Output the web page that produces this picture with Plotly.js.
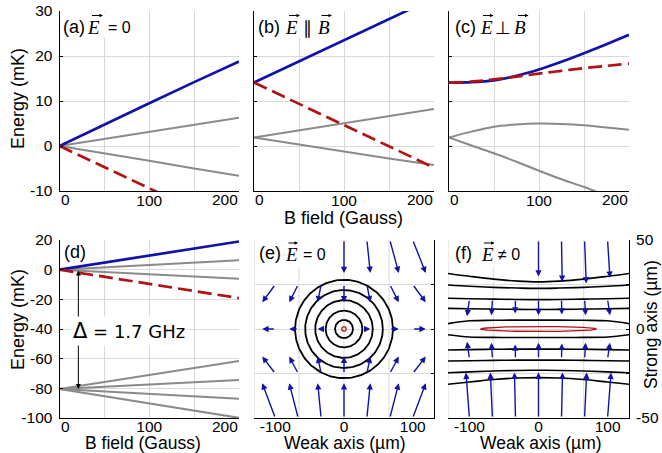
<!DOCTYPE html>
<html><head><meta charset="utf-8">
<script src="https://cdn.plot.ly/plotly-3.0.1.min.js"></script>
<style>body{margin:0;background:#fff}#chart{width:662px;height:453px}</style>
</head><body><div id="chart"></div>
<script>
// ================= DATA =================
// (a) E = 0
const aField = [0, 50, 100, 150, 200];
const aBlue = [0, 4.8, 9.5, 14.2, 18.8];
const aGrayUp = [0, 1.6, 3.1, 4.7, 6.3];
const aGrayDown = [0, -1.6, -3.3, -5.0, -6.6];
const aRed = [0, -4.7, -9.4, -14.1, -18.8];
// (b) E || B
const bField = [0, 50, 100, 150, 200];
const bBlue = [14.1, 18.8, 23.5, 28.2, 32.9];
const bRed = [14.1, 9.4, 4.7, 0.0, -4.8];
const bGrayUp = [1.9, 3.5, 5.0, 6.6, 8.2];
const bGrayDown = [1.9, 0.3, -1.3, -2.8, -4.2];
// (c) E perp B
const cField = [0, 25, 50, 75, 100, 125, 150, 175, 200];
const cBlue = [14.1, 14.2, 14.6, 15.6, 17.0, 18.7, 20.6, 22.6, 24.7];
const cRed = [14.1, 14.3, 14.8, 15.4, 16.1, 16.7, 17.3, 17.8, 18.3];
const cGrayUp = [1.9, 3.2, 4.3, 4.8, 5.0, 4.9, 4.6, 4.1, 3.6];
const cGrayDown = [1.9, 0.1, -1.6, -3.5, -5.5, -7.4, -9.1, -11.0, -12.8];
// (d) full manifold
const dField = [0, 100, 200];
const dBlue = [0, 9.5, 19.0];
const dGrayUp = [0, 3.2, 6.4];
const dGrayDown = [0, -3.1, -6.2];
const dRed = [0, -9.6, -19.2];
const dLower1 = [-80.5, -71.0, -61.5];
const dLower2 = [-80.5, -77.5, -74.4];
const dLower3 = [-80.5, -83.8, -87.0];
const dLower4 = [-80.5, -90.2, -99.9];
const deltaField = 21, deltaTop = -0.5, deltaBottom = -80.5, deltaMid = -42;
const deltaLabel = '1.7 GHz';
// (e) E = 0 trap: contour ellipses (semi-axes in µm)
const eRingRx = [13.1, 26.7, 41.9, 56.5, 71.2];
const eRingRy = [5.1, 10.3, 16.2, 21.9, 27.6];
const eCoreRx = 3.4, eCoreRy = 1.3;
// (e) force arrows: tails and components (µm)
const eArrowX = [0,33.3,66.7,100,
  -100,-66.7,-33.3,0,33.3,66.7,100,
  -100,-66.7,-33.3,33.3,66.7,100,
  -100,-66.7,-33.3,0,33.3,66.7,100,
  -100,-66.7,-33.3,0,33.3,66.7,100];
const eArrowY = [50,50,50,50,
  25,25,25,25,25,25,25,
  0,0,0,0,0,0,
  -25,-25,-25,-25,-25,-25,-25,
  -50,-50,-50,-50,-50,-50,-50];
const eArrowU = [0,5,13,19,
  -19,-13,-5,0,5,13,19,
  -19,-13,-5,5,13,19,
  -19,-13,-5,0,5,13,19,
  -19,-13,-5,0,5,13,19];
const eArrowV = [-18.5,-18.5,-18.5,-18.5,
  -10,-10,-10,-10,-10,-10,-10,
  0,0,0,0,0,0,
  9.5,9.5,9.5,9.5,9.5,9.5,9.5,
  19.5,19.5,19.5,19.5,19.5,19.5,19.5];
// (f) E != 0 trap: contour lines
const fLineX = [-131, -100, -65, -30, 0, 30, 65, 100, 131];
const fLines = [
  [31.2, 29.6, 28.0, 26.9, 26.5, 26.9, 28.0, 29.6, 31.2],
  [24.7, 24.0, 23.4, 23.0, 22.8, 23.0, 23.4, 24.0, 24.7],
  [17.3, 17.0, 16.8, 16.6, 16.5, 16.6, 16.8, 17.0, 17.3],
  [11.6, 11.4, 11.2, 11.0, 11.0, 11.0, 11.2, 11.4, 11.6],
  [3.0, 4.6, 4.9, 5.0, 5.0, 5.0, 4.9, 4.6, 3.0],
  [-3.2, -4.5, -4.7, -4.8, -4.8, -4.8, -4.7, -4.5, -3.2],
  [-11.8, -11.6, -11.4, -11.3, -11.3, -11.3, -11.4, -11.6, -11.8],
  [-18.0, -17.8, -17.6, -17.5, -17.5, -17.5, -17.6, -17.8, -18.0],
  [-24.6, -24.1, -23.6, -23.3, -23.2, -23.3, -23.6, -24.1, -24.6],
  [-31.0, -29.8, -28.4, -27.5, -27.3, -27.5, -28.4, -29.8, -31.0]
];
const fCoreRx = 84, fCoreRy = 1.4;
// (f) force arrows
const fArrowX = [0,33.3,66.7,100,
  -100,-66.7,-33.3,0,33.3,66.7,100,
  -100,-66.7,-33.3,0,33.3,66.7,100,
  -100,-66.7,-33.3,0,33.3,66.7,100];
const fArrowY = [50,50,50,50,
  16.7,16.7,16.7,16.7,16.7,16.7,16.7,
  -16.7,-16.7,-16.7,-16.7,-16.7,-16.7,-16.7,
  -50,-50,-50,-50,-50,-50,-50];
const fArrowU = [0,1,2.4,3.4,
  -3.4,-1.5,-0.5,0,0.5,1.5,3.4,
  -3.4,-1.5,-0.5,0,0.5,1.5,3.4,
  -5,-3,-1.5,0,1.5,3,5];
const fArrowV = [-20.5,-23.5,-24.4,-21.2,
  -9.5,-9,-8,-9,-8.5,-9,-9,
  9.5,9,8,9,8.5,9,9,
  25.5,25.5,25.5,25.5,25.5,25.5,25.5];
// tick labels
const fieldTicks = [0, 50, 100, 150, 200];
const fieldTickText = ['', '', '100', '', ''];
const fieldEndTicks = [0, 200];
const fieldEndText = ['0', '200'];
const topTicks = [-10, 0, 10, 20, 30];
const topTickText = ['-10', '0', '10', '20', '30'];
const dTicks = [-100, -80, -60, -40, -20, 0, 20];
const dTickText = ['-100', '-80', '-60', '-40', '-20', '0', '20'];
const weakTicks = [-100, 0, 100];
const weakTickText = ['-100', '0', '100'];
const strongTicks = [-50, -25, 0, 25, 50];
const strongTickText = ['-50', '', '0', '', '50'];

// ================= STYLE =================
const W = 662, H = 453;
const BLUE = '#1212a8', RED = '#b31212', GRAY = '#8a8a8a', GRID = '#d9d9d9';
const SANS = 'Liberation Sans, Arial, sans-serif';
const SERIF = 'Liberation Serif, Times New Roman, serif';
const px = x => x / W, py = y => 1 - y / H;

function ln(x, y, ax, color, width, dash, shape) {
  return {type: 'scatter', mode: 'lines', x: x, y: y, xaxis: 'x' + ax, yaxis: 'y' + ax,
    line: {color: color, width: width, dash: dash || 'solid', shape: shape || 'linear'},
    hoverinfo: 'skip', showlegend: false};
}
function ellipse(rx, ry, ax, color, width) {
  const xs = [], ys = [];
  for (let i = 0; i <= 160; i++) { const t = 2 * Math.PI * i / 160; xs.push(rx * Math.cos(t)); ys.push(ry * Math.sin(t)); }
  return ln(xs, ys, ax, color, width);
}
const DASH = '14px,6px';
const traces = [
  ln(aField, aGrayUp, '', GRAY, 2), ln(aField, aGrayDown, '', GRAY, 2),
  ln(aField, aBlue, '', BLUE, 2.7), ln(aField, aRed, '', RED, 2.7, DASH),
  ln(bField, bGrayUp, '2', GRAY, 2), ln(bField, bGrayDown, '2', GRAY, 2),
  ln(bField, bBlue, '2', BLUE, 2.7), ln(bField, bRed, '2', RED, 2.7, DASH),
  ln(cField, cGrayUp, '3', GRAY, 2, null, 'spline'), ln(cField, cGrayDown, '3', GRAY, 2, null, 'spline'),
  ln(cField, cBlue, '3', BLUE, 2.7, null, 'spline'), ln(cField, cRed, '3', RED, 2.7, DASH, 'spline'),
  ln(dField, dGrayUp, '4', GRAY, 2), ln(dField, dGrayDown, '4', GRAY, 2),
  ln(dField, dLower1, '4', GRAY, 2), ln(dField, dLower2, '4', GRAY, 2),
  ln(dField, dLower3, '4', GRAY, 2), ln(dField, dLower4, '4', GRAY, 2),
  ln(dField, dBlue, '4', BLUE, 2.7), ln(dField, dRed, '4', RED, 2.7, DASH)
];
eRingRx.forEach((rx, i) => traces.push(ellipse(rx, eRingRy[i], '5', '#000', 1.8)));
traces.push(ellipse(eCoreRx, eCoreRy, '5', RED, 1.3));
fLines.forEach(v => traces.push(ln(fLineX, v, '6', '#000', 1.6, null, 'spline')));
traces.push(ellipse(fCoreRx, fCoreRy, '6', RED, 1.3));

// ================= AXES =================
const tickFont = {family: SANS, size: 15.5, color: '#000'};
function axis(o) {
  return Object.assign({showline: true, linecolor: '#000', linewidth: 1, showgrid: true, gridcolor: GRID,
    gridwidth: 1, zeroline: false, ticks: 'inside', ticklen: 3, tickcolor: '#000', tickfont: tickFont,
    tickmode: 'array', fixedrange: true, ticklabelstandoff: 3}, o);
}
const colA = [59.5 / W, 239 / W], colB = [254 / W, 434 / W], colC = [449 / W, 629 / W], colF = [448 / W, 629 / W];
const rowT = [1 - 191 / H, 1 - 11 / H], rowB = [1 - 418 / H, 1 - 240 / H];
const fieldAx = (dom, anchor, so) => axis({domain: dom, anchor: anchor, range: [0, 200], tickvals: fieldTicks, ticktext: fieldTickText, ticks: '', ticklabelstandoff: so});
const layout = {
  width: W, height: H, margin: {l: 0, r: 0, t: 0, b: 0}, paper_bgcolor: '#fff', plot_bgcolor: '#fff',
  showlegend: false, font: {family: SANS, color: '#000'},
  xaxis: fieldAx(colA, 'y', -5), xaxis2: fieldAx(colB, 'y2', -5), xaxis3: fieldAx(colC, 'y3', -5), xaxis4: fieldAx(colA, 'y4', -6),
  yaxis: axis({domain: rowT, anchor: 'x', range: [-10, 30], tickvals: topTicks, ticktext: topTickText}),
  yaxis2: axis({domain: rowT, anchor: 'x2', range: [-10, 30], tickvals: topTicks, showticklabels: false}),
  yaxis3: axis({domain: rowT, anchor: 'x3', range: [-10, 30], tickvals: topTicks, showticklabels: false}),
  yaxis4: axis({domain: rowB, anchor: 'x4', range: [-100, 20], tickvals: dTicks, ticktext: dTickText}),
  xaxis5: axis({domain: colB, anchor: 'y5', range: [-131, 131], tickvals: weakTicks, ticktext: weakTickText, showgrid: false, ticks: '', ticklabelstandoff: -6}),
  yaxis5: axis({domain: rowB, anchor: 'x5', side: 'right', range: [-50, 50], tickvals: strongTicks, showticklabels: false}),
  xaxis6: axis({domain: colF, anchor: 'y6', range: [-131, 131], tickvals: weakTicks, ticktext: weakTickText, showgrid: false, ticks: '', ticklabelstandoff: -6}),
  yaxis6: axis({domain: rowB, anchor: 'x6', side: 'right', range: [-50, 50], tickvals: strongTicks, ticktext: strongTickText})
};

// ================= SHAPES =================
const shapes = [];
[['x5', 'y5'], ['x6', 'y6']].forEach(([xa, ya]) => {
  [-131, -65.5, 0, 65.5].forEach(v => shapes.push({type: 'line', xref: xa, yref: ya + ' domain', x0: v, x1: v, y0: 0, y1: 1,
    line: {color: GRID, width: 1}, layer: 'below'}));
});
// white label boxes
[[60.5, 133, 12, 38], [255, 335, 12, 38], [450, 530, 12, 38], [60.5, 90, 241, 262], [255, 333, 241, 268], [449, 528, 241, 267]]
  .forEach(([x0, x1, y0, y1]) => shapes.push({type: 'rect', xref: 'paper', yref: 'paper', x0: px(x0), x1: px(x1), y0: py(y1), y1: py(y0),
    fillcolor: '#fff', line: {width: 0}, layer: 'above'}));
layout.shapes = shapes;

// ================= ANNOTATIONS =================
const ann = [];
function quiver(X, Y, U, V, ax) {
  X.forEach((x, i) => ann.push({xref: 'x' + ax, yref: 'y' + ax, axref: 'x' + ax, ayref: 'y' + ax,
    x: x + U[i], y: Y[i] + V[i], ax: x, ay: Y[i], text: '', showarrow: true, arrowhead: 2, arrowsize: 0.9,
    arrowwidth: 1.4, arrowcolor: BLUE, standoff: 0}));
}
quiver(eArrowX, eArrowY, eArrowU, eArrowV, '5');
quiver(fArrowX, fArrowY, fArrowU, fArrowV, '6');
// end tick labels of the field axes, kept inside the axis extent
[['', -9], ['2', -9], ['3', -9], ['4', -8]].forEach(([a, sh]) => fieldEndTicks.forEach((v, i) => ann.push({xref: 'x' + a, yref: 'y' + a + ' domain',
  x: v, y: 0, yshift: sh, text: fieldEndText[i], showarrow: false, xanchor: i === 0 ? 'left' : 'right', yanchor: 'middle',
  borderpad: 0, font: tickFont})));
// Delta double arrow
[deltaTop, deltaBottom].forEach(v => ann.push({xref: 'x4', yref: 'y4', axref: 'x4', ayref: 'y4', x: deltaField, y: v,
  ax: deltaField, ay: deltaMid, text: '', showarrow: true, arrowhead: 2, arrowsize: 1, arrowwidth: 1, arrowcolor: '#000', standoff: 0}));
function txt(t, x, y, o) {
  return Object.assign({text: t, xref: 'paper', yref: 'paper', x: px(x), y: py(y), showarrow: false,
    xanchor: 'center', yanchor: 'middle', font: {family: SANS, size: 18, color: '#000'}}, o || {});
}
ann.push(txt('<span style="font-size:21px">Δ</span> = ' + deltaLabel, 129, 331,
  {font: {family: 'DejaVu Sans', size: 18, color: '#000'}, bgcolor: '#fff', borderpad: 2}));
function vecArrow(x0, x1, y) {
  ann.push({xref: 'paper', yref: 'paper', x: px(x1), y: py(y), ax: x0 - x1, ay: 0, text: '', showarrow: true,
    arrowhead: 2, arrowsize: 0.7, arrowwidth: 1, arrowcolor: '#000', standoff: 0});
}
const L = {xanchor: 'left'};
const sym = (t, x, y) => txt(t, x, y, {font: {family: SERIF, size: 18, color: '#000'}});
const E = (x, y) => txt('<i>E</i>', x, y, {font: {family: SERIF, size: 19, color: '#000'}});
const B = (x, y) => txt('<i>B</i>', x, y, {font: {family: SERIF, size: 19, color: '#000'}});
const eq = (t, x, y) => txt(t, x, y, {xanchor: 'left', font: {family: SANS, size: 16, color: '#000'}});
// (a)
ann.push(txt('(a)', 61, 27, L), E(93.5, 28), eq('= 0', 106, 28));
vecArrow(90.5, 103, 15.5);
// (b)
ann.push(txt('(b)', 256, 27, L), E(291, 28), sym('∥', 307, 28), B(323.5, 28));
vecArrow(287.5, 300, 15.5); vecArrow(320, 332, 15.5);
// (c)
ann.push(txt('(c)', 452.5, 27, L), E(486, 28), sym('⊥', 503, 28), B(520, 28));
vecArrow(481.5, 493.5, 15.5); vecArrow(516.5, 528.5, 15.5);
// (d)
ann.push(txt('(d)', 61.5, 252.5, L));
// (e)
ann.push(txt('(e)', 256.5, 253, L), E(291, 254.5), eq('= 0', 300.5, 254.5));
vecArrow(287, 298, 243);
// (f)
ann.push(txt('(f)', 452.5, 253, L), E(487, 254.5), eq('≠ 0', 496, 254.5));
vecArrow(482.5, 494.5, 243);
// axis titles
const TF = {family: SANS, size: 17.5, color: '#000'};
ann.push(txt('Energy (mK)', 18, 99, {textangle: -90}), txt('Energy (mK)', 18, 320, {textangle: -90}));
ann.push(txt('B field (Gauss)', 343, 218), txt('B field (Gauss)', 143, 442.5, {font: TF}));
ann.push(txt('Weak axis (µm)', 345, 442.5, {font: TF}), txt('Weak axis (µm)', 540.5, 442.5, {font: TF}));
ann.push(txt('Strong axis (µm)', 651, 325, {textangle: -90, font: TF}));
layout.annotations = ann;

Plotly.newPlot('chart', traces, layout, {staticPlot: true, displayModeBar: false});
</script></body></html>
